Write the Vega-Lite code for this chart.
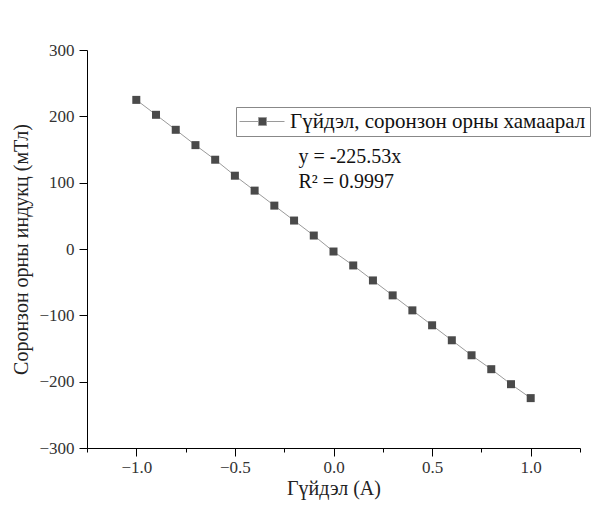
{
  "$schema": "https://vega.github.io/schema/vega-lite/v6.json",
  "width": 493,
  "height": 398,
  "autosize": {"type": "none"},
  "padding": {"left": 87, "top": 50, "right": 29, "bottom": 63},
  "background": "white",
  "config": {
    "view": {"stroke": null},
    "axis": {
      "grid": false,
      "domainColor": "#000",
      "tickColor": "#000",
      "labelFont": "Liberation Serif",
      "labelFontSize": 17,
      "labelColor": "#333",
      "titleFont": "Liberation Serif",
      "titleFontSize": 20,
      "titleFontWeight": "normal",
      "titleColor": "#222"
    }
  },
  "layer": [
    {
      "data": {
        "values": [
          {"x": -1.0, "y": 224.8, "series": "Гүйдэл, соронзон орны хамаарал"},
          {"x": -0.9, "y": 202.3, "series": "Гүйдэл, соронзон орны хамаарал"},
          {"x": -0.8, "y": 179.7, "series": "Гүйдэл, соронзон орны хамаарал"},
          {"x": -0.7, "y": 156.6, "series": "Гүйдэл, соронзон орны хамаарал"},
          {"x": -0.6, "y": 134.6, "series": "Гүйдэл, соронзон орны хамаарал"},
          {"x": -0.5, "y": 110.5, "series": "Гүйдэл, соронзон орны хамаарал"},
          {"x": -0.4, "y": 88.0, "series": "Гүйдэл, соронзон орны хамаарал"},
          {"x": -0.3, "y": 65.4, "series": "Гүйдэл, соронзон орны хамаарал"},
          {"x": -0.2, "y": 42.9, "series": "Гүйдэл, соронзон орны хамаарал"},
          {"x": -0.1, "y": 20.3, "series": "Гүйдэл, соронзон орны хамаарал"},
          {"x": 0.0, "y": -3.8, "series": "Гүйдэл, соронзон орны хамаарал"},
          {"x": 0.1, "y": -24.8, "series": "Гүйдэл, соронзон орны хамаарал"},
          {"x": 0.2, "y": -47.4, "series": "Гүйдэл, соронзон орны хамаарал"},
          {"x": 0.3, "y": -69.9, "series": "Гүйдэл, соронзон орны хамаарал"},
          {"x": 0.4, "y": -92.5, "series": "Гүйдэл, соронзон орны хамаарал"},
          {"x": 0.5, "y": -115.0, "series": "Гүйдэл, соронзон орны хамаарал"},
          {"x": 0.6, "y": -137.6, "series": "Гүйдэл, соронзон орны хамаарал"},
          {"x": 0.7, "y": -160.2, "series": "Гүйдэл, соронзон орны хамаарал"},
          {"x": 0.8, "y": -181.2, "series": "Гүйдэл, соронзон орны хамаарал"},
          {"x": 0.9, "y": -203.8, "series": "Гүйдэл, соронзон орны хамаарал"},
          {"x": 1.0, "y": -224.8, "series": "Гүйдэл, соронзон орны хамаарал"}
        ]
      },
      "layer": [
        {
          "mark": {"type": "line", "strokeWidth": 1},
          "encoding": {
            "x": {
              "field": "x", "type": "quantitative",
              "scale": {"domain": [-1.25, 1.25], "nice": false, "zero": false},
              "title": "Гүйдэл (А)",
              "axis": {
                "values": [-1.25, -1, -0.75, -0.5, -0.25, 0, 0.25, 0.5, 0.75, 1, 1.25],
                "format": ".1f",
                "labelExpr": "abs(datum.value*2 - round(datum.value*2)) < 0.001 ? datum.label : ''",
                "tickSize": {"condition": {"test": "abs(datum.value*2 - round(datum.value*2)) < 0.001", "value": 8}, "value": 4},
                "labelFont": "Liberation Serif",
                "labelFontSize": 17,
                "labelFlush": false,
                "labelOverlap": false,
                "labelPadding": 3,
                "titlePadding": 3
              }
            },
            "y": {
              "field": "y", "type": "quantitative",
              "scale": {"domain": [-300, 300], "nice": false},
              "title": "Соронзон орны индукц (мТл)",
              "axis": {
                "values": [-300, -250, -200, -150, -100, -50, 0, 50, 100, 150, 200, 250, 300],
                "labelExpr": "datum.value % 100 == 0 ? datum.label : ''",
                "tickSize": {"condition": {"test": "datum.value % 100 == 0", "value": 8}, "value": 4},
                "labelFont": "Liberation Serif",
                "labelFontSize": 17,
                "labelFlush": false,
                "labelOverlap": false,
                "labelPadding": 5,
                "titlePadding": 7
              }
            },
            "color": {
              "field": "series", "type": "nominal",
              "scale": {"range": ["#9a9a9a"]},
              "legend": {
                "title": null,
                "orient": "none",
                "legendX": 149,
                "legendY": 57,
                "strokeColor": "#888",
                "fillColor": "white",
                "padding": 4,
                "labelFont": "Liberation Serif",
                "labelFontSize": 21,
                "labelColor": "#111",
                "labelLimit": 500,
                "labelOffset": 17,
                "symbolOffset": 12,
                "symbolType": "M-2.3,0H-0.4M0.4,0H2.2M-0.4,-0.4H0.4V0.4H-0.4Z",
                "symbolSize": 400,
                "symbolStrokeWidth": 1,
                "encode": {"symbols": {"update": {"fill": {"value": "#4a4a4a"}, "stroke": {"value": "#8a8a8a"}}}}
              }
            }
          }
        },
        {
          "mark": {"type": "point", "shape": "square", "filled": true, "size": 64, "color": "#4a4a4a", "opacity": 1},
          "encoding": {
            "x": {"field": "x", "type": "quantitative"},
            "y": {"field": "y", "type": "quantitative"}
          }
        }
      ]
    },
    {
      "data": {"values": [{"label": "y = -225.53x\nR² = 0.9997"}]},
      "mark": {"type": "text", "align": "left", "baseline": "alphabetic", "font": "Liberation Serif", "fontSize": 20, "lineBreak": "\n", "lineHeight": 25, "color": "#111"},
      "encoding": {
        "x": {"datum": -0.178},
        "y": {"datum": 130},
        "text": {"field": "label"}
      }
    }
  ]
}
